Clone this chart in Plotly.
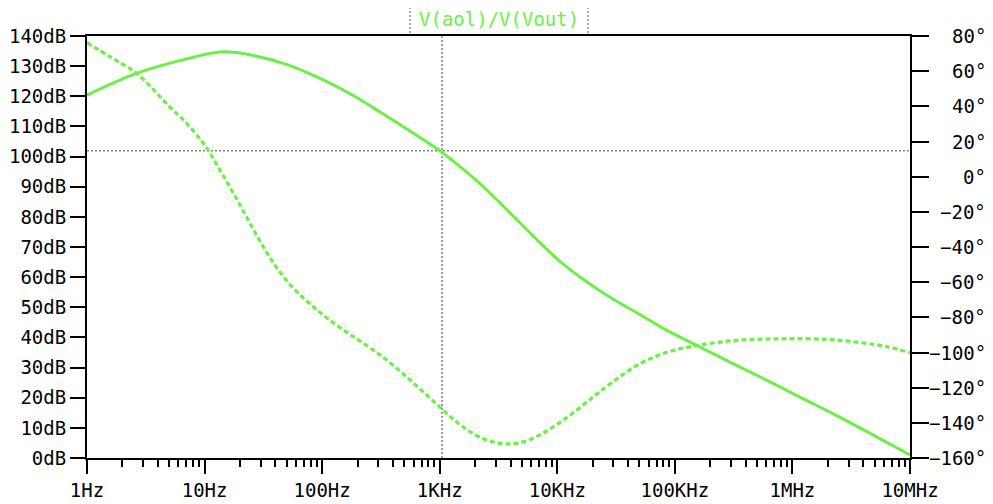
import plotly.graph_objects as go

# ---- data ----
gain_logf = [0.0, 0.421, 0.846, 1.127, 1.271, 1.696, 2.0, 2.25, 2.5, 2.75, 3.012,
             3.168, 3.338, 3.508, 3.678, 3.848, 4.018, 4.188, 4.358, 4.528, 4.698, 4.925,
             5.208, 5.489, 5.776, 6.059, 6.339, 6.626, 7.0]
gain_db = [120.4, 127.6, 132.4, 134.7, 134.5, 130.6, 125.6, 120.6, 114.6, 108.4, 101.6,
           96.8, 91.2, 84.8, 78.2, 71.6, 65.4, 60.2, 55.6, 51.5, 47.7, 42.5,
           36.9, 31.4, 25.9, 20.3, 14.8, 8.9, 1.0]

phase_logf = [0.0, 0.2, 0.421, 0.702, 0.846, 0.971, 1.025, 1.127, 1.212, 1.297, 1.382, 1.467,
              1.552, 1.637, 1.747, 1.864, 1.977, 2.088, 2.204, 2.318, 2.459, 2.544,
              2.683, 2.827, 2.997, 3.139, 3.278, 3.422, 3.565, 3.703, 3.848, 3.990,
              4.128, 4.273, 4.358, 4.528, 4.698, 4.925, 5.208, 5.548, 5.914, 6.286,
              6.569, 6.796, 7.0]
phase_deg = [76.2, 68.0, 58.8, 39.8, 30.5, 20.6, 15.6, 4.2, -5.6, -15.6, -26.0, -36.2,
             -45.6, -53.9, -62.8, -70.4, -77.0, -82.8, -88.3, -93.3, -99.8, -104.0,
             -111.8, -120.4, -130.8, -139.3, -145.9, -150.2, -152.0, -151.0, -147.0, -141.2,
             -134.7, -127.0, -122.5, -114.0, -106.6, -100.0, -95.8, -93.0, -92.2, -92.5,
             -94.3, -96.6, -100.1]

x_tickvals = [1, 10, 100, 1e3, 1e4, 1e5, 1e6, 1e7]
x_ticktext = ["1Hz", "10Hz", "100Hz", "1KHz", "10KHz", "100KHz", "1MHz", "10MHz"]
db_ticks = list(range(0, 141, 10))
deg_ticks = list(range(-160, 81, 20))

cursor_freq = 1047.0
cursor_db = 101.9

title_text = "V(aol)/V(Vout)"

# ---- styling ----
GREEN = "#6cf046"
FONT = "DejaVu Sans Mono"
FS = 19

gain_f = [10 ** v for v in gain_logf]
phase_f = [10 ** v for v in phase_logf]

fig = go.Figure()

# cursor lines
fig.add_trace(go.Scatter(x=[cursor_freq, cursor_freq], y=[0, 140], mode="lines",
                         line=dict(color="#444444", width=1, dash="2px,2px"),
                         hoverinfo="skip", showlegend=False))
fig.add_trace(go.Scatter(x=[1, 1e7], y=[cursor_db, cursor_db], mode="lines",
                         line=dict(color="#444444", width=1, dash="2px,2px"),
                         hoverinfo="skip", showlegend=False))

fig.add_trace(go.Scatter(x=gain_f, y=gain_db, mode="lines", line_shape="spline",
                         line=dict(color=GREEN, width=3), showlegend=False))
fig.add_trace(go.Scatter(x=phase_f, y=phase_deg, mode="lines", line_shape="spline",
                         line=dict(color=GREEN, width=3.2, dash="5px,3px"),
                         yaxis="y2", showlegend=False))

minor_vals = [k * 10 ** d for d in range(7) for k in range(2, 10)]

fig.update_layout(
    width=993, height=504,
    margin=dict(l=87, r=83, t=36, b=46),
    paper_bgcolor="white", plot_bgcolor="white",
    font=dict(family=FONT, size=FS, color="black"),
    xaxis=dict(type="log", range=[0, 7], tickmode="array", tickvals=x_tickvals,
               ticktext=x_ticktext, showgrid=False, zeroline=False, automargin=False,
               showline=True, linecolor="black", linewidth=2, mirror=True,
               ticks="outside", ticklen=14, tickwidth=2, tickcolor="black",
               minor=dict(ticks="outside", ticklen=7, tickwidth=1.5, tickcolor="black",
                          tickmode="array", tickvals=minor_vals, showgrid=False)),
    yaxis=dict(range=[0, 140], tickmode="array", tickvals=db_ticks, automargin=False,
               ticktext=[f"{v}dB" for v in db_ticks], showgrid=False, zeroline=False,
               showline=True, linecolor="black", linewidth=2,
               ticks="outside", ticklen=15, tickwidth=2, tickcolor="black"),
    yaxis2=dict(range=[-160, 80], overlaying="y", side="right", tickmode="array",
                tickvals=deg_ticks, showticklabels=False, showgrid=False, zeroline=False,
                showline=True, linecolor="black", linewidth=2, automargin=False,
                ticks="outside", ticklen=17, tickwidth=2, tickcolor="black"),
)

# right-aligned phase tick labels
for v in deg_ticks:
    txt = (f"\u2212{abs(v)}°" if v < 0 else f"{v}°")
    fig.add_annotation(text=txt, xref="paper", x=1, xanchor="right", xshift=78,
                       yref="y2", y=v, yanchor="middle", showarrow=False,
                       font=dict(family=FONT, size=FS, color="black"))

# title
fig.add_annotation(text=title_text, xref="paper", x=0.5, xanchor="center",
                   yref="paper", y=1.04, yanchor="middle", showarrow=False,
                   font=dict(family=FONT, size=FS, color=GREEN))
for xp in [0.3925, 0.6088]:
    fig.add_shape(type="line", xref="paper", yref="paper", x0=xp, x1=xp,
                  y0=1.007, y1=1.066, line=dict(color="#555555", width=1, dash="2px,2px"))

fig.write_html("out.html")
